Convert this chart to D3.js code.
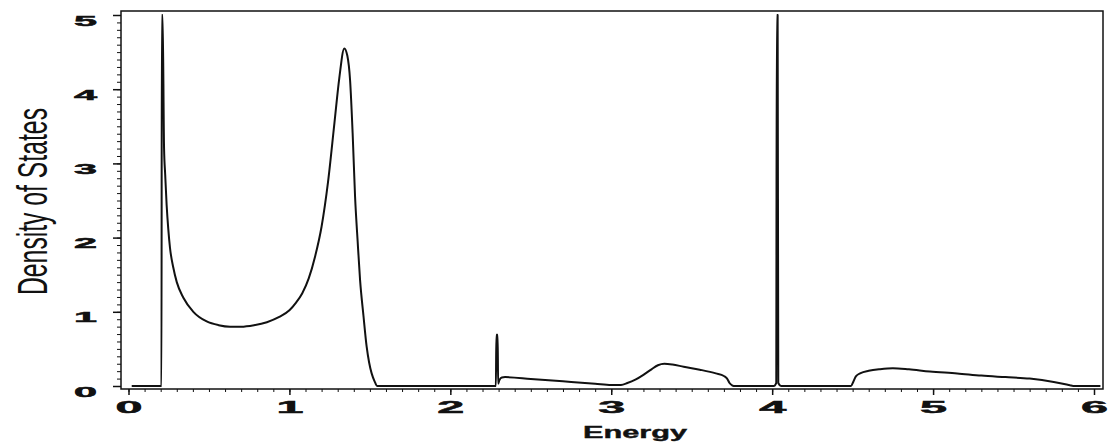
<!DOCTYPE html>
<html>
<head>
<meta charset="utf-8">
<script src="https://cdn.jsdelivr.net/npm/d3@7"></script>
<style>
  html, body { margin: 0; padding: 0; background: #fff; }
  svg { display: block; }
</style>
</head>
<body>
<svg id="chart" width="1110" height="444"></svg>
<script>
// Density of states vs. energy
const energy = [
  0.02, 0.205, 0.207, 0.212, 0.221, 0.228, 0.237, 0.247, 0.258, 0.278,
  0.300, 0.341, 0.403, 0.486, 0.56, 0.631, 0.70, 0.78, 0.86, 0.937,
  1.00, 1.04, 1.08, 1.12, 1.16, 1.20, 1.24, 1.28, 1.31, 1.341,
  1.36, 1.377, 1.393, 1.408, 1.424, 1.439, 1.46, 1.48, 1.495, 1.511,
  1.53, 1.546, 2.283, 2.286, 2.294, 2.297, 2.305, 2.32, 2.34, 2.50,
  2.70, 2.90, 3.00, 3.06, 3.10, 3.15, 3.20, 3.25, 3.29, 3.33,
  3.38, 3.45, 3.55, 3.65, 3.70, 3.72, 3.735, 3.75, 3.76, 4.01,
  4.025, 4.029, 4.034, 4.038, 4.055, 4.49, 4.505, 4.52, 4.55, 4.60,
  4.67, 4.75, 4.85, 4.98, 5.15, 5.30, 5.45, 5.60, 5.75, 5.83,
  5.85, 5.87, 6.04
];
const dos = [
  0, 0, 5.0, 5.0, 3.2, 2.85, 2.44, 2.12, 1.86, 1.60,
  1.40, 1.19, 1.00, 0.87, 0.82, 0.80, 0.80, 0.82, 0.86, 0.93,
  1.02, 1.12, 1.25, 1.45, 1.75, 2.15, 2.75, 3.55, 4.15, 4.55,
  4.45, 4.12, 3.40, 2.55, 1.95, 1.43, 0.95, 0.53, 0.32, 0.17,
  0.06, 0, 0, 0.69, 0.69, 0.03, 0.08, 0.115, 0.12, 0.095,
  0.063, 0.03, 0.012, 0.015, 0.04, 0.085, 0.15, 0.225, 0.28, 0.30,
  0.29, 0.26, 0.22, 0.17, 0.135, 0.10, 0.04, 0.01, 0, 0,
  0.04, 5.0, 5.0, 0.04, 0, 0, 0.06, 0.13, 0.175, 0.205,
  0.227, 0.24, 0.225, 0.195, 0.17, 0.14, 0.12, 0.10, 0.055, 0.02,
  0.01, 0, 0
];
const xTicks = [0, 1, 2, 3, 4, 5, 6];
const yTicks = [0, 1, 2, 3, 4, 5];
const xMinor = d3.range(0, 61).map(i => i / 10);
const yMinor = d3.range(0, 51).map(i => i / 10);
const xTitle = "Energy";
const yTitle = "Density of States";

const svg = d3.select("#chart");
const frame = { left: 121, right: 1103, top: 11, bottom: 389 };

const x = d3.scaleLinear().domain([0, 6]).range([128.5, 1094]);
const y = d3.scaleLinear().domain([0, 5]).range([386, 15]);

const ink = "#111";

// clip the curve to the plotting box
svg.append("defs").append("clipPath").attr("id", "plotClip")
  .append("rect")
  .attr("x", frame.left).attr("y", frame.top)
  .attr("width", frame.right - frame.left)
  .attr("height", frame.bottom - frame.top);

// minor ticks
const xMinorAxis = d3.axisBottom(x).tickValues(xMinor).tickSize(3).tickFormat("");
const yMinorAxis = d3.axisLeft(y).tickValues(yMinor).tickSize(4).tickFormat("");
svg.append("g").attr("transform", `translate(0,${frame.bottom})`).call(xMinorAxis)
  .call(g => g.select(".domain").remove())
  .call(g => g.selectAll("line").attr("stroke", ink).attr("stroke-width", 1));
svg.append("g").attr("transform", `translate(${frame.left},0)`).call(yMinorAxis)
  .call(g => g.select(".domain").remove())
  .call(g => g.selectAll("line").attr("stroke", ink).attr("stroke-width", 1));

// major ticks and labels
const xAxis = d3.axisBottom(x).tickValues(xTicks).tickSize(6).tickFormat(d3.format("d"));
const yAxis = d3.axisLeft(y).tickValues(yTicks).tickSize(8).tickFormat(d3.format("d"));

svg.append("g").attr("transform", `translate(0,${frame.bottom})`).call(xAxis)
  .call(g => g.select(".domain").remove())
  .call(g => g.selectAll("line").attr("stroke", ink).attr("stroke-width", 1.5))
  .call(g => g.selectAll("text")
    .attr("y", 24).attr("dy", 0)
    .attr("fill", ink)
    .attr("stroke", ink).attr("stroke-width", 0.5)
    .attr("font-family", "'Liberation Sans', Arial, sans-serif")
    .attr("font-weight", "bold")
    .attr("font-size", 16.5)
    .attr("textLength", 27)
    .attr("lengthAdjust", "spacingAndGlyphs"));

svg.append("g").attr("transform", `translate(${frame.left},0)`).call(yAxis)
  .call(g => g.select(".domain").remove())
  .call(g => g.selectAll("line").attr("stroke", ink).attr("stroke-width", 1.5))
  .call(g => g.selectAll("text")
    .attr("x", -24).attr("y", 10).attr("dy", 0)
    .attr("fill", ink)
    .attr("stroke", ink).attr("stroke-width", 0.5)
    .attr("font-family", "'Liberation Sans', Arial, sans-serif")
    .attr("font-weight", "bold")
    .attr("font-size", 14)
    .attr("textLength", 23)
    .attr("lengthAdjust", "spacingAndGlyphs"));

// plot frame
svg.append("rect")
  .attr("x", frame.left).attr("y", frame.top)
  .attr("width", frame.right - frame.left)
  .attr("height", frame.bottom - frame.top)
  .attr("fill", "none").attr("stroke", ink).attr("stroke-width", 1.5);

// DOS curve
const points = energy.map((e, i) => [e, dos[i]]);
const line = d3.line()
  .x(d => x(d[0]))
  .y(d => y(d[1]))
  .curve(d3.curveMonotoneX);

svg.append("path")
  .datum(points)
  .attr("clip-path", "url(#plotClip)")
  .attr("d", line)
  .attr("fill", "none")
  .attr("stroke", ink)
  .attr("stroke-width", 2)
  .attr("stroke-linejoin", "round");

// axis titles
svg.append("text")
  .attr("x", 635).attr("y", 438)
  .attr("text-anchor", "middle")
  .attr("fill", ink)
  .attr("stroke", ink).attr("stroke-width", 0.4)
  .attr("font-family", "'Liberation Sans', Arial, sans-serif")
  .attr("font-weight", "bold")
  .attr("font-size", 16.5)
  .attr("textLength", 104)
  .attr("lengthAdjust", "spacingAndGlyphs")
  .text(xTitle);

svg.append("text")
  .attr("transform", "translate(47,201.5) rotate(-90)")
  .attr("text-anchor", "middle")
  .attr("fill", ink)
  .attr("font-family", "'Liberation Sans', Arial, sans-serif")
  .attr("font-size", 42)
  .attr("textLength", 187)
  .attr("lengthAdjust", "spacingAndGlyphs")
  .text(yTitle);
</script>
</body>
</html>
